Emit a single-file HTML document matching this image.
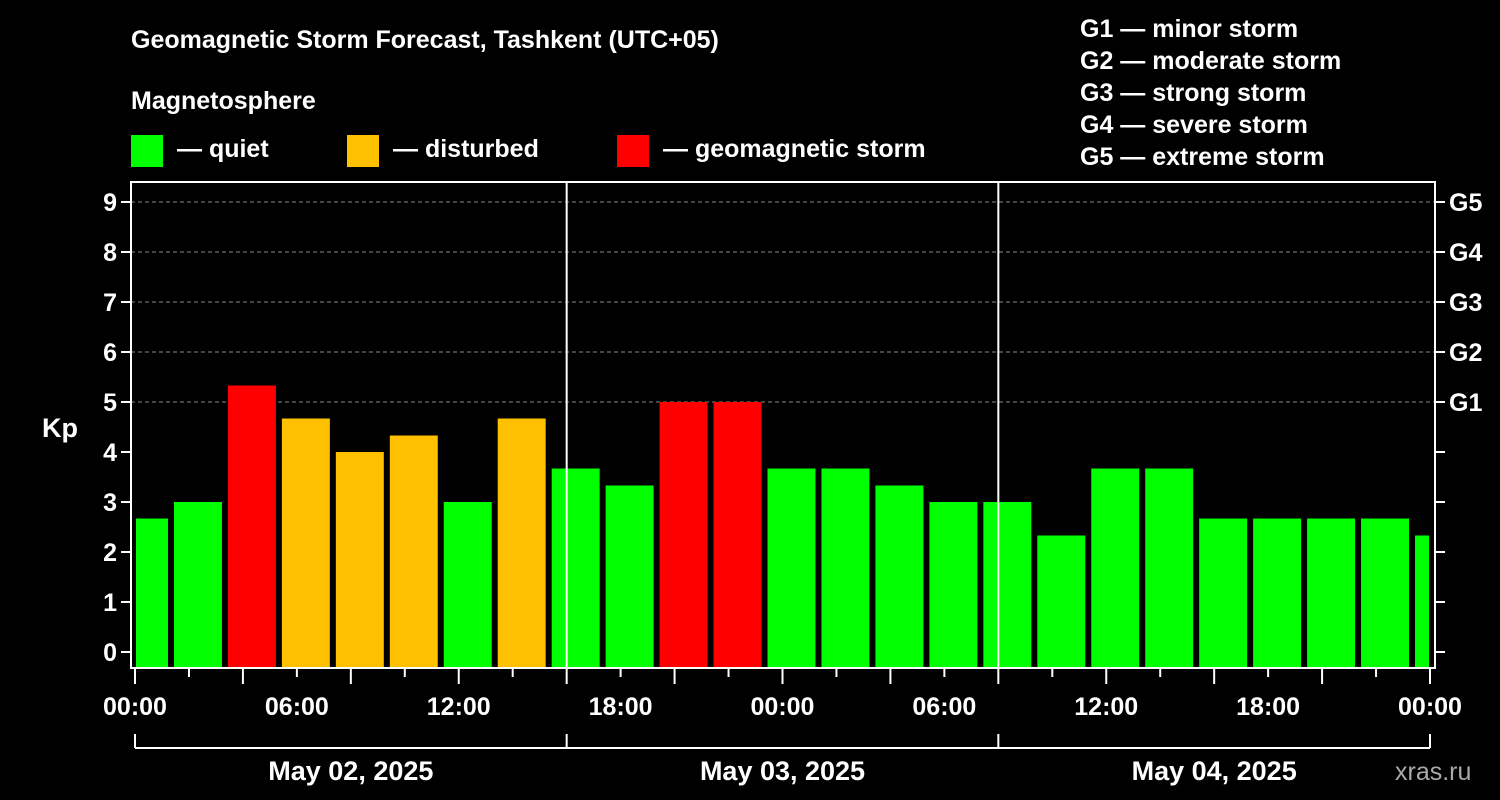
<!DOCTYPE html>
<html><head><meta charset="utf-8"><style>
html,body{margin:0;padding:0;background:#000;}
svg{display:block;font-family:"Liberation Sans",Arial,sans-serif;font-weight:bold;}
</style></head><body>
<svg id="chart" width="1500" height="800" viewBox="0 0 1500 800">
<text x="131" y="48" fill="#fff" font-size="25">Geomagnetic Storm Forecast, Tashkent (UTC+05)</text>
<text x="131" y="109" fill="#fff" font-size="25">Magnetosphere</text>
<g><rect x="131" y="135" width="32" height="32" fill="#00ff00"/><text x="177" y="157" fill="#fff" font-size="25">— quiet</text></g>
<g><rect x="347" y="135" width="32" height="32" fill="#ffc000"/><text x="393" y="157" fill="#fff" font-size="25">— disturbed</text></g>
<g><rect x="617" y="135" width="32" height="32" fill="#ff0000"/><text x="663" y="157" fill="#fff" font-size="25">— geomagnetic storm</text></g>
<g fill="#fff" font-size="25">
<text x="1080" y="37">G1 — minor storm</text>
<text x="1080" y="69">G2 — moderate storm</text>
<text x="1080" y="101">G3 — strong storm</text>
<text x="1080" y="133">G4 — severe storm</text>
<text x="1080" y="165">G5 — extreme storm</text>
</g>
<text x="42" y="437" fill="#fff" font-size="27">Kp</text>
<text x="1395" y="780" fill="#aaa" font-size="25" font-weight="normal">xras.ru</text>
<g id="grid"></g><g id="bars"></g><g id="axes"></g>
</svg>
<script>
const kpValues=[2.67,3,5.33,4.67,4,4.33,3,4.67,3.67,3.33,5,5,3.67,3.67,3.33,3,3,2.33,3.67,3.67,2.67,2.67,2.67,2.67,2.33];
const yTicks=[0,1,2,3,4,5,6,7,8,9];
const gLabels=["G1","G2","G3","G4","G5"];
const xTickLabels=["00:00","06:00","12:00","18:00","00:00","06:00","12:00","18:00","00:00","06:00","12:00","18:00","00:00"];
const dayLabels=["May 02, 2025","May 03, 2025","May 04, 2025"];
const NS="http://www.w3.org/2000/svg";
const L=131,R=1435,T=182,B=668,X0=135,X1=1430,HOURS=72;
const xs=h=>X0+(X1-X0)*h/HOURS;
const ys=v=>652-v*50;
function mk(tag,attrs,parent){const e=document.createElementNS(NS,tag);for(const k in attrs)e.setAttribute(k,attrs[k]);parent.appendChild(e);return e;}
const grid=document.getElementById('grid'),bars=document.getElementById('bars'),axes=document.getElementById('axes');
for(let v=5;v<=9;v++){const l=mk('line',{x1:L,x2:R,y1:ys(v),y2:ys(v),stroke:'#888','stroke-dasharray':'4,3','stroke-width':1},grid);

}
kpValues.forEach((v,i)=>{
 let x1=xs(-1+3*i)+3,x2=xs(2+3*i)-3;x1=Math.max(x1,L+5);x2=Math.min(x2,R-6);
 const c=v>=5?'#ff0000':(v>=4?'#ffc000':'#00ff00');
 const r=mk('rect',{x:x1,y:ys(v),width:x2-x1,height:B-ys(v),fill:c},bars);
 
 
});
[1,2].forEach(d=>{const l=mk('line',{x1:xs(24*d),x2:xs(24*d),y1:T,y2:B,stroke:'#fff','stroke-width':2},axes);

});
const fr=mk('rect',{x:L,y:T,width:R-L,height:B-T,fill:'none',stroke:'#fff','stroke-width':2},axes);


yTicks.forEach(v=>{
 mk('line',{x1:L-10,x2:L,y1:ys(v),y2:ys(v),stroke:'#fff','stroke-width':2},axes);
 mk('line',{x1:R,x2:R+10,y1:ys(v),y2:ys(v),stroke:'#fff','stroke-width':2},axes);
 const t=mk('text',{x:L-14,y:ys(v)+9,fill:'#fff','font-size':25,'text-anchor':'end'},axes);t.textContent=v;
 
 
});
gLabels.forEach((g,i)=>{const t=mk('text',{x:1449,y:ys(5+i)+9,fill:'#fff','font-size':25},axes);t.textContent=g;
 
 });
for(let h=0;h<=HOURS;h+=3){const major=h%6===0;
 mk('line',{x1:xs(h),x2:xs(h),y1:B,y2:B+(major?16:9),stroke:'#fff','stroke-width':2},axes);}
xTickLabels.forEach((s,i)=>{const t=mk('text',{x:xs(6*i*1.5),y:715,fill:'#fff','font-size':25,'text-anchor':'middle'},axes);t.textContent=s;
 
 });
mk('line',{x1:X0,x2:X1,y1:748,y2:748,stroke:'#fff','stroke-width':2},axes);
[0,24,48,72].forEach(h=>mk('line',{x1:xs(h),x2:xs(h),y1:734,y2:748,stroke:'#fff','stroke-width':2},axes));
dayLabels.forEach((s,i)=>{const t=mk('text',{x:xs(24*i+12),y:780,fill:'#fff','font-size':27,'text-anchor':'middle'},axes);t.textContent=s;
 
 });
</script>
</body></html>
